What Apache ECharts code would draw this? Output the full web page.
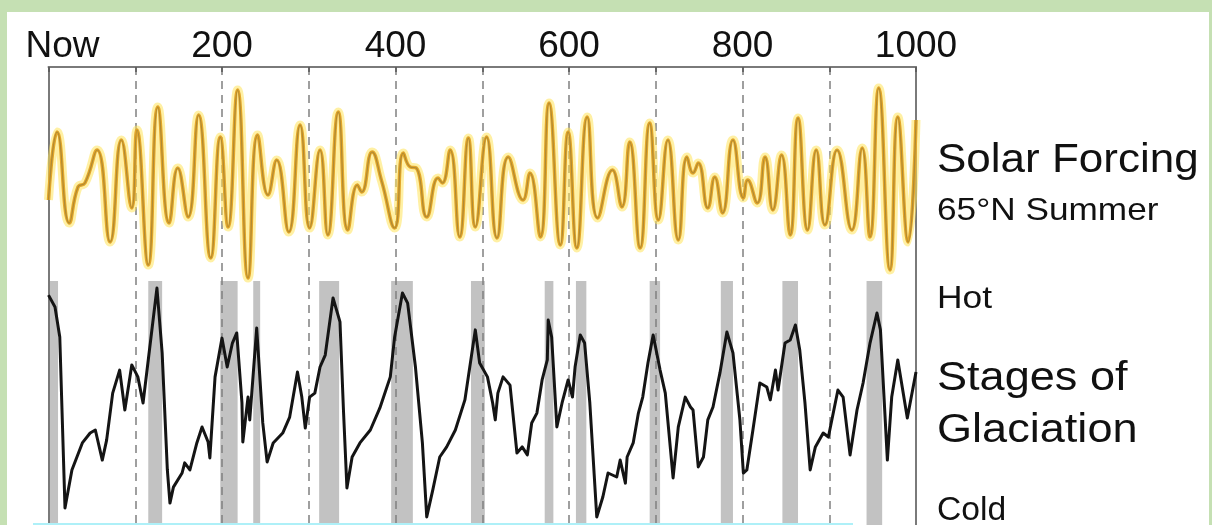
<!DOCTYPE html>
<html>
<head>
<meta charset="utf-8">
<script src="https://cdn.jsdelivr.net/npm/echarts@6/dist/echarts.min.js"></script>
<style>
  html, body { margin: 0; padding: 0; background: #c5e0b3; width: 1212px; height: 525px; overflow: hidden; }
  #panel { position: absolute; left: 7px; top: 12px; width: 1202px; height: 520px; background: #ffffff; }
  #cyan { position: absolute; left: 33px; top: 523px; width: 820px; height: 2px; background: #aef0f8; z-index: 5; }
  #chart { position: absolute; left: 0; top: 0; width: 1212px; height: 525px; }
</style>
</head>
<body>
<div id="panel"></div>
<div id="chart"></div>
<div id="cyan"></div>
<script>
// ---- data (kyr before present) ----
// 65°N summer insolation, read at the curve's turning points [kyr, W/m²]
const solarKyr = [0,10,24,34,42,56,71,84,96,102,115,126,139,149,161,173,187,198,207,218,230,241,253,263,277,290,301,313,322,334,345,356,361,373,384,399,409,417,424,436,449,454,463,474,484,492,505,517,530,547,555,567,577,590,599,609,621,633,650,661,670,682,693,703,714,726,736,743,749,760,768,777,789,801,806,817,826,835,845,855,864,875,885,895,909,926,938,947,957,970,979,991,1000];
const solarVal = [492.5,526.5,481,499,501,517.5,471.5,522.5,488.5,527.5,460,539,481,508.5,484,535,463.5,524,479,547.5,453.5,525,495,512.5,476.5,530,478.5,517.5,475,536.5,477.5,500,496.5,516.5,502,478.5,516,509,508.5,484,503.5,501,517.5,474,523.5,479,524,473.5,514,492.5,506,474,541,470,526.5,468.5,534,483.5,507.5,489,521.5,468.5,531,482.5,522.5,472.5,514,506,511,488.5,504,486,522.5,493.5,502.5,491,514,487.5,515,475,533.5,477.5,517.5,480,517.5,477.5,518.5,474,548.5,457.5,534,471.5,532.5];

// Stages of glaciation index (0 = cold, 100 = hot)
const glacKyr = [0,7.5,13,19,27,39,48,54,62,67,74,82,88,96,103,109,115,125,131,137,140,144,154,157,163,171,177,184,186,192,200,206,212,217,223,224,230,232,240,247,252,259,270,278,287,292,296,301,307,313,319,328,336,340,344,350,359,371,382,394,399,408,414,423,431,436,443,451,459,469,480,492,497,506,512,515,518,524,532,540,546,552,557,563,569,575,576,580,586,592,599,604,607,613,618,624,632,639,645,655,659,665,667,674,680,685,691,697,705,711,720,726,734,740,743,749,755,760,766,774,782,789,797,801,805,812,820,828,832,838,841,849,855,861,866,872,878,884,893,899,910,916,924,932,939,947,955,959,967,972,979,990,1000];
const glacVal = [95.7,90.6,77.9,5.1,21.3,32.8,37,38.3,25.5,34,54,63.8,46.8,66,60.9,49.8,68.1,98.7,71.1,21.3,7.2,14,20,24.3,21.3,32.8,39.6,33.2,26.4,60.9,77.4,65.1,75.3,79.6,49.8,33.2,52.3,42.6,81.7,41.3,24.7,32.8,37,43.8,63,52.3,39.1,52.3,54,65.1,70.2,94.5,84.3,46.8,13.6,26.8,32.8,38.3,47.7,60.9,77.9,96.6,92.3,65.1,32.8,1.3,12.8,26.8,31.1,38.3,51.1,80.9,66.8,60.9,49.8,42.6,54,60.9,57.4,28.5,31.1,27.7,41.3,45.5,59.6,68.1,85.1,77.9,39.6,49.8,59.6,52.3,65.1,78.7,75.3,49.8,1.3,9.8,20,18.3,25.5,15.7,26.8,32.8,45.5,52.3,66.8,78.7,63.8,54,17.9,39.6,52.3,48.1,46.8,22.6,26.8,42.6,48.1,62.6,80,71.1,42.6,20,21.3,38.3,58.3,56.6,51.1,63.8,55.3,75.3,76.6,83,72.3,49.8,21.3,31.1,37,35.3,55.3,52.3,27.7,46.8,58.3,75.3,88.1,80.9,25.5,52.3,68.1,43.4,63];

// Shaded warm stages [start kyr, end kyr]
const warmStart = [0,115,198,236,312,395,487,572,608,693,775,846,943];
const warmEnd   = [11,131,218,244,335,420,503,582,620,705,789,864,961];

// Axis tick labels
const tickLabels = {0: 'Now', 200: '200', 400: '400', 600: '600', 800: '800', 1000: '1000'};

// ---- layout constants ----
const GRID_TOP = 67, GRID_H = 470, GRID_LEFT = 48.5, GRID_RIGHT = 1212 - 916;
const solarMin = 324, solarMax = 559;
const glacPxPerUnit = 2.35, glacZeroPx = 520;
const glacMax = (glacZeroPx - GRID_TOP) / glacPxPerUnit;
const glacMin = glacMax - GRID_H / glacPxPerUnit;
const bandTop = (glacZeroPx - 281) / glacPxPerUnit;

const solarData = solarKyr.map((k, i) => [k, solarVal[i]]);
const glacData = glacKyr.map((k, i) => [k, glacVal[i]]);
const bands = warmStart.map((s, i) => [{xAxis: s, yAxis: bandTop}, {xAxis: warmEnd[i], yAxis: glacMin}]);

const FONT = '"Liberation Sans", Arial, sans-serif';
const FRAME = { color: '#7a7a7a', width: 2 };
const chart = echarts.init(document.getElementById('chart'), null, {renderer: 'canvas'});

function label(text, x, baseline, fs, sx) {
  return {
    type: 'text', x: x, y: baseline - 0.3465 * fs, scaleX: sx, scaleY: 1, z: 10,
    style: { text: text, fontSize: fs, fontFamily: FONT, fill: '#111', align: 'left', verticalAlign: 'middle' }
  };
}

function frameAxis(pos, min, max) {
  return { type: 'value', position: pos, min: min, max: max, show: true, z: 3,
           axisLine: { show: true, onZero: false, lineStyle: FRAME },
           axisTick: { show: false }, axisLabel: { show: false }, splitLine: { show: false } };
}

chart.setOption({
  animation: false,
  backgroundColor: 'transparent',
  grid: { left: GRID_LEFT, right: GRID_RIGHT, top: GRID_TOP, height: GRID_H, outerBoundsMode: 'none', containLabel: false, show: false },
  xAxis: {
    type: 'value', position: 'top', min: 0, max: 1000, interval: 100, z: 3,
    axisLine: { show: true, onZero: false, lineStyle: FRAME },
    axisTick: { show: true, inside: true, length: 5, lineStyle: { color: '#555', width: 1.5 } },
    axisLabel: {
      show: true, margin: 2, color: '#111', fontSize: 37, fontFamily: FONT,
      formatter: v => v === 0 ? '{n|Now}' : (tickLabels[v] || ''),
      rich: { n: { fontSize: 37, fontFamily: FONT, color: '#111', padding: [0, 0, 0, 28] } }
    },
    splitLine: { show: true, lineStyle: { color: '#808080', width: 1.5, type: [8, 6] } }
  },
  yAxis: [
    frameAxis('left', solarMin, solarMax),
    frameAxis('right', glacMin, glacMax)
  ],
  series: [
    { type: 'line', name: 'bands', data: [], yAxisIndex: 1, z: 1, silent: true,
      markArea: { silent: true, itemStyle: { color: '#c2c2c2' }, data: bands } },
    { type: 'line', name: 'Solar halo', data: solarData, yAxisIndex: 0, z: 4, smooth: 0.5, showSymbol: false, symbol: 'none',
      lineStyle: { color: 'rgba(255,228,90,0.55)', width: 9 } },
    { type: 'line', name: 'Solar Forcing', data: solarData, yAxisIndex: 0, z: 5, smooth: 0.5, showSymbol: false, symbol: 'none',
      lineStyle: { color: '#e3a62a', width: 3.5 } },
    { type: 'line', name: 'Solar core', data: solarData, yAxisIndex: 0, z: 6, smooth: 0.5, showSymbol: false, symbol: 'none',
      lineStyle: { color: '#b08a34', width: 1.2 } },
    { type: 'line', name: 'Stages of Glaciation', data: glacData, yAxisIndex: 1, z: 7, showSymbol: false, symbol: 'none',
      lineStyle: { color: '#141414', width: 3, join: 'round' } }
  ],
  graphic: [
    label('Solar Forcing', 937, 175, 40, 1.1),
    label('65°N Summer', 937, 222, 32, 1.1),
    label('Hot', 937, 310, 31, 1.14),
    label('Stages of', 937, 393, 41, 1.1),
    label('Glaciation', 937, 445, 41, 1.1),
    label('Cold', 937, 522, 33, 1.02)
  ]
});
</script>
</body>
</html>
